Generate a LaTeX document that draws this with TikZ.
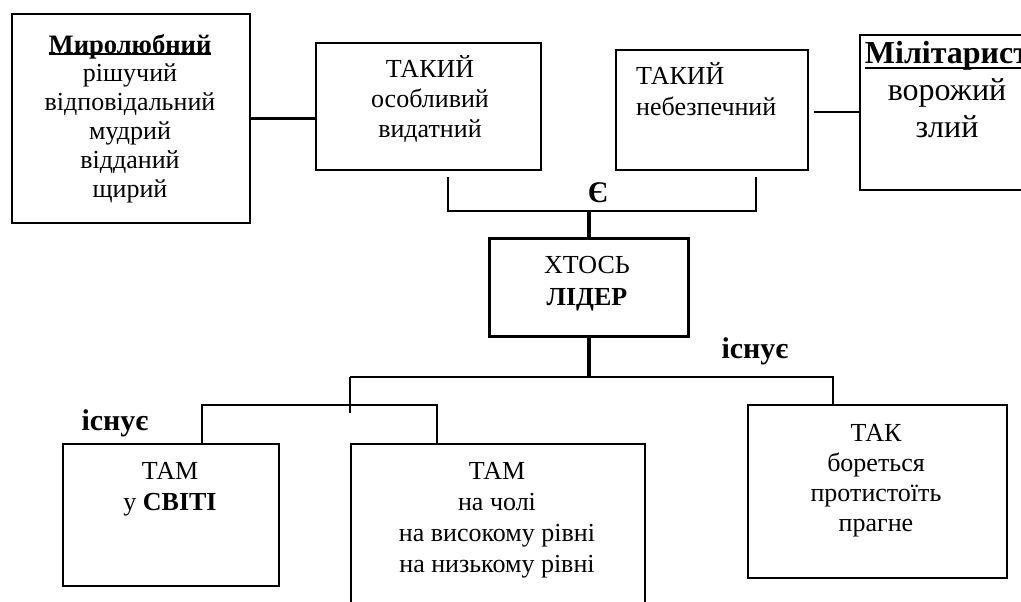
\documentclass[tikz,border=0pt]{standalone}
\usepackage{fontspec}
\setmainfont{Liberation Serif}
\usepackage{tikz}
\usetikzlibrary{positioning, calc}

\newcommand{\txtfont}{\fontsize{26}{30.5}\selectfont}
\newcommand{\listfont}{\fontsize{26}{28.8}\selectfont}
\newcommand{\bigfont}{\fontsize{32}{37}\selectfont}
\newcommand{\lblfont}{\fontsize{30}{32}\selectfont\bfseries}
\newsavebox{\headbox}
\newcommand{\headword}[2]{\sbox{\headbox}{\textbf{#2}}\rlap{\rule[-#1]{\wd\headbox}{2.2pt}}\usebox{\headbox}}

\begin{document}
\begin{tikzpicture}[
    x=1pt, y=-1pt,
    box/.style={
        draw, line width=1.8pt,
        anchor=north west, inner sep=0pt
    },
    txt/.style={
        anchor=base, align=center,
        inner sep=0pt, font=\txtfont
    },
    lbl/.style={
        anchor=base, inner sep=0pt, font=\lblfont
    },
    link/.style={line width=2.2pt},
    fine link/.style={line width=1.4pt},
    strong link/.style={line width=3.8pt}
]
\useasboundingbox (0,0) rectangle (1021,602);
\clip (0,0) rectangle (1021,602);

% upper row (text nodes sit on their last baseline)
\node[box, minimum width=238pt, minimum height=209pt] (peace) at (11,13) {};
\node[txt, font=\listfont] (peacetxt) at (130,197)
    {{\fontsize{26.6}{28.8}\selectfont\headword{2pt}{Миролюбний}}\\рішучий\\відповідальний\\мудрий\\відданий\\щирий};

\node[box, minimum width=225pt, minimum height=127pt] (such1) at (315,42) {};
\node[txt] (such1txt) at (430,138) {ТАКИЙ\\особливий\\видатний};

\node[box, minimum width=192pt, minimum height=120pt] (such2) at (615,49) {};
\node[txt, anchor=base west, align=left] (such2txt) at (636,115) {ТАКИЙ\\небезпечний};

\node[box, minimum width=176pt, minimum height=155pt] (war) at (859,34) {};
\node[txt, font=\bigfont] (wartxt) at (947,137)
    {\headword{6pt}{Мілітарист}\\ворожий\\злий};

% centre
\node[box, line width=3.4pt, minimum width=199pt, minimum height=98pt] (leader) at (488,237) {};
\node[txt, font=\fontsize{26}{32}\selectfont] (leadertxt) at (587,305) {ХТОСЬ\\\textbf{ЛІДЕР}};

% lower row
\node[box, minimum width=216pt, minimum height=142pt] (there1) at (62,443) {};
\node[txt] (there1txt) at (170,510) {ТАМ\\у \textbf{СВІТІ}};

\node[box, line width=1.5pt, minimum width=294pt, minimum height=180pt] (there2) at (350,443) {};
\node[txt, font=\fontsize{26}{31}\selectfont] (there2txt) at (497,572)
    {ТАМ\\на чолі\\на високому рівні\\на низькому рівні};

\node[box, minimum width=259pt, minimum height=173pt] (so) at (747,404) {};
\node[txt, font=\fontsize{26}{30}\selectfont] (sotxt) at (876,531) {ТАК\\бореться\\протистоїть\\прагне};

% labels
\node[lbl] (is) at (598,202) {Є};
\node[lbl] (exists1) at (755,358) {існує};
\node[lbl] (exists2) at (115,430) {існує};

% side links
\draw[link] (peace.east) -- (peace.east -| such1.west);
\draw[link] ([xshift=5pt]such2.east |- war.west) -- (war.west);

% bracket under the upper row
\coordinate (brL) at (448,177);
\coordinate (brR) at (756,177);
\coordinate (esplit) at (leader.north |- 0,211);
\draw[link] (brL) |- (esplit) -| (brR);
\draw[strong link] (esplit) -- (leader.north);

% tree under the leader
\coordinate (isplit) at (leader.south |- 0,377);
\coordinate (hl) at (350,377);
\coordinate (hr) at (833,377);
\coordinate (sl) at (202,405);
\coordinate (sr) at (437,405);
\draw[strong link] (leader.south) -- (isplit);
\draw[fine link] (hl) -- (hr) -- (hr |- so.north);
\draw[fine link] (hl) -- ++(0,36);
\draw[fine link] (there1.north -| sl) |- (sr) -- (sr |- there2.north);

\end{tikzpicture}
\end{document}
